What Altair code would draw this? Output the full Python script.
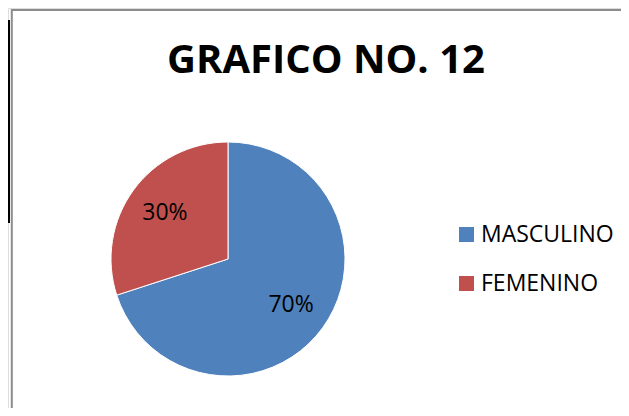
import altair as alt
import pandas as pd

categories = ["MASCULINO", "FEMENINO"]
values = [70, 30]
colors = ["#4F81BD", "#C0504D"]
title_text = "GRAFICO NO. 12"

df = pd.DataFrame({"sexo": categories, "valor": values, "orden": list(range(len(categories)))})

W, H = 613, 400
FONT = "Open Sans"

base = alt.Chart(df).transform_joinaggregate(total="sum(valor)").transform_calculate(
    pct="format(datum.valor / datum.total, '.0%')"
)

color = alt.Color(
    "sexo:N",
    sort=categories,
    scale=alt.Scale(domain=categories, range=colors),
    legend=alt.Legend(
        title=None,
        orient="none",
        legendX=447,
        legendY=215,
        padding=0,
        symbolType="square",
        symbolSize=225,
        symbolStrokeWidth=0,
        labelFont=FONT,
        labelFontSize=23,
        labelColor="#000000",
        labelOffset=3,
        rowPadding=25,
        labelLimit=300,
    ),
)

pie = base.mark_arc(outerRadius=117, stroke="white", strokeWidth=1).encode(
    theta=alt.Theta("valor:Q", stack=True),
    color=color,
    order=alt.Order("orden:Q"),
    x=alt.value(220),
    y=alt.value(251),
)

labels = base.mark_text(font=FONT, fontSize=23, color="#000000", baseline="middle", align="center").encode(
    theta=alt.Theta("valor:Q", stack=True),
    order=alt.Order("orden:Q"),
    radius=alt.value(78),
    text="pct:N",
    x=alt.value(220),
    y=alt.value(251),
)

title = alt.Chart(pd.DataFrame({"t": [title_text]})).mark_text(
    font=FONT, fontSize=40, fontWeight="bold", color="#000000", align="center", baseline="alphabetic"
).encode(text="t:N", x=alt.value(318), y=alt.value(65))

frame = alt.Chart(pd.DataFrame({"a": [0]})).mark_rect(
    fill="white", stroke="#8c8c8c", strokeWidth=2
).encode(x=alt.value(3.8), y=alt.value(2), x2=alt.value(W + 20), y2=alt.value(H + 20))

side = alt.Chart(pd.DataFrame({"a": [0]})).mark_rule(color="#000000", strokeWidth=2).encode(
    x=alt.value(1), y=alt.value(12), y2=alt.value(215)
)

chart = alt.layer(frame, side, pie, labels, title).properties(
    width=W, height=H, autosize=alt.AutoSizeParams(type="none"), padding=0
).configure_view(stroke=None).configure(background="white")

chart.save("out.html", embed_options={"renderer": "svg", "actions": False})
